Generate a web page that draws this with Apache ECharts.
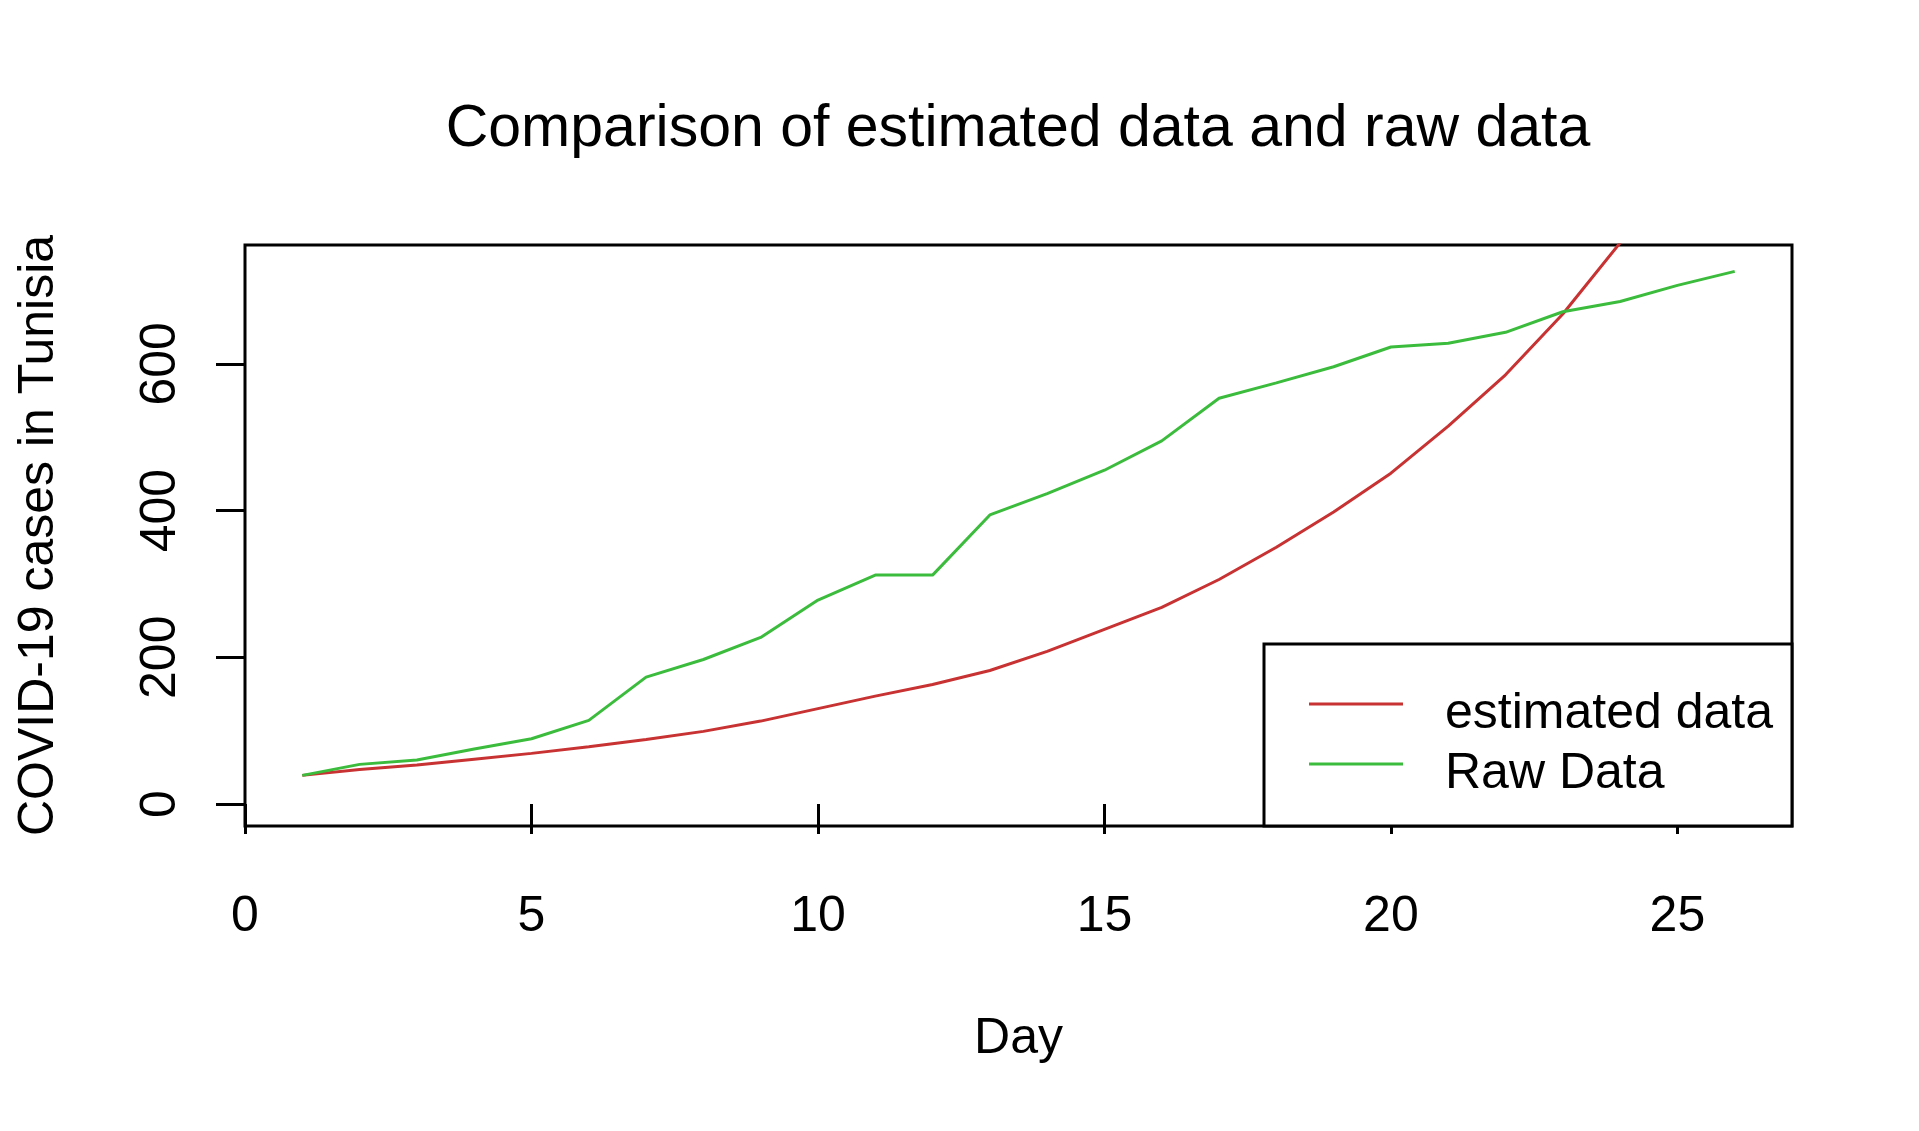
<!DOCTYPE html>
<html>
<head>
<meta charset="utf-8">
<script src="https://cdn.jsdelivr.net/npm/echarts@6/dist/echarts.min.js"></script>
<style>
html,body{margin:0;padding:0;background:#fff;}
#chart{width:1919px;height:1131px;}
</style>
</head>
<body>
<div id="chart"></div>
<script>
const days = [1,2,3,4,5,6,7,8,9,10,11,12,13,14,15,16,17,18,19,20,21,22,23,24,25,26];
const rawData = [39,54,60,75,89,114,173,197,227,278,312,312,394,423,455,495,553,574,596,623,628,643,671,685,707,726];
const estimatedData = [39,47,53,61,69,78,88,99,113,130,147,163,182,208,238,268,306,350,398,451,515,585,668,765,870,990];
const xTicks = [0,5,10,15,20,25];
const yTicks = [0,200,400,600];

const FONT = 'Liberation Sans, Arial, sans-serif';
const chart = echarts.init(document.getElementById('chart'), null, {renderer:'canvas'});

const toPairs = (xs, ys) => xs.map((x, i) => [x, ys[i]]);

// legend key: a short line drawn in the upper part of a taller icon box
const legendIcon = 'path://M0,0L94,0L94,3L0,3Z M0,22.9L0.05,22.9L0.05,23L0,23Z';

chart.setOption({
  animation: false,
  backgroundColor: '#fff',
  title: {
    text: 'Comparison of estimated data and raw data',
    left: 1018,
    textAlign: 'center',
    top: 100,
    padding: 0,
    textStyle: {fontFamily: FONT, fontSize: 59, fontWeight: 'normal', color: '#000'}
  },
  grid: {
    left: 245, top: 245, width: 1547, height: 581,
    show: true, borderColor: '#000', borderWidth: 3,
    containLabel: false,
    outerBoundsMode: 'none'
  },
  legend: {
    orient: 'vertical',
    left: 1264, top: 644,
    padding: [45, 19, 27, 45],
    itemGap: 10,
    itemWidth: 94,
    itemHeight: 23,
    icon: legendIcon,
    symbolKeepAspect: false,
    borderColor: '#000',
    borderWidth: 3,
    backgroundColor: '#fff',
    textStyle: {fontFamily: FONT, fontSize: 50, color: '#000', padding: [0, 0, 0, 37]},
    data: ['estimated data', 'Raw Data']
  },
  xAxis: {
    type: 'value',
    min: 0, max: 27,
    name: 'Day',
    nameLocation: 'middle',
    nameGap: 188,
    nameTextStyle: {fontFamily: FONT, fontSize: 50, color: '#000'},
    axisLine: {show: false},
    axisTick: {show: true, inside: false, length: 30, lineStyle: {color: '#000', width: 3}, customValues: xTicks},
    axisLabel: {fontFamily: FONT, fontSize: 50, color: '#000', margin: 66, customValues: xTicks},
    splitLine: {show: false}
  },
  yAxis: {
    type: 'value',
    min: -30, max: 762,
    name: 'COVID-19 cases in Tunisia',
    nameLocation: 'middle',
    nameRotate: 90,
    nameGap: 181,
    nameTextStyle: {fontFamily: FONT, fontSize: 50, color: '#000'},
    axisLine: {show: false},
    axisTick: {show: true, inside: false, length: 29, lineStyle: {color: '#000', width: 3}, customValues: yTicks},
    axisLabel: {fontFamily: FONT, fontSize: 50, color: '#000', rotate: 90, margin: 59, customValues: yTicks},
    splitLine: {show: false}
  },
  series: [
    {
      name: 'estimated data',
      type: 'line',
      data: toPairs(days, estimatedData),
      showSymbol: false,
      clip: true,
      color: '#c83232',
      lineStyle: {color: '#c83232', width: 3}
    },
    {
      name: 'Raw Data',
      type: 'line',
      data: toPairs(days, rawData),
      showSymbol: false,
      clip: true,
      color: '#3cbc3c',
      lineStyle: {color: '#3cbc3c', width: 3}
    }
  ]
});
</script>
</body>
</html>
